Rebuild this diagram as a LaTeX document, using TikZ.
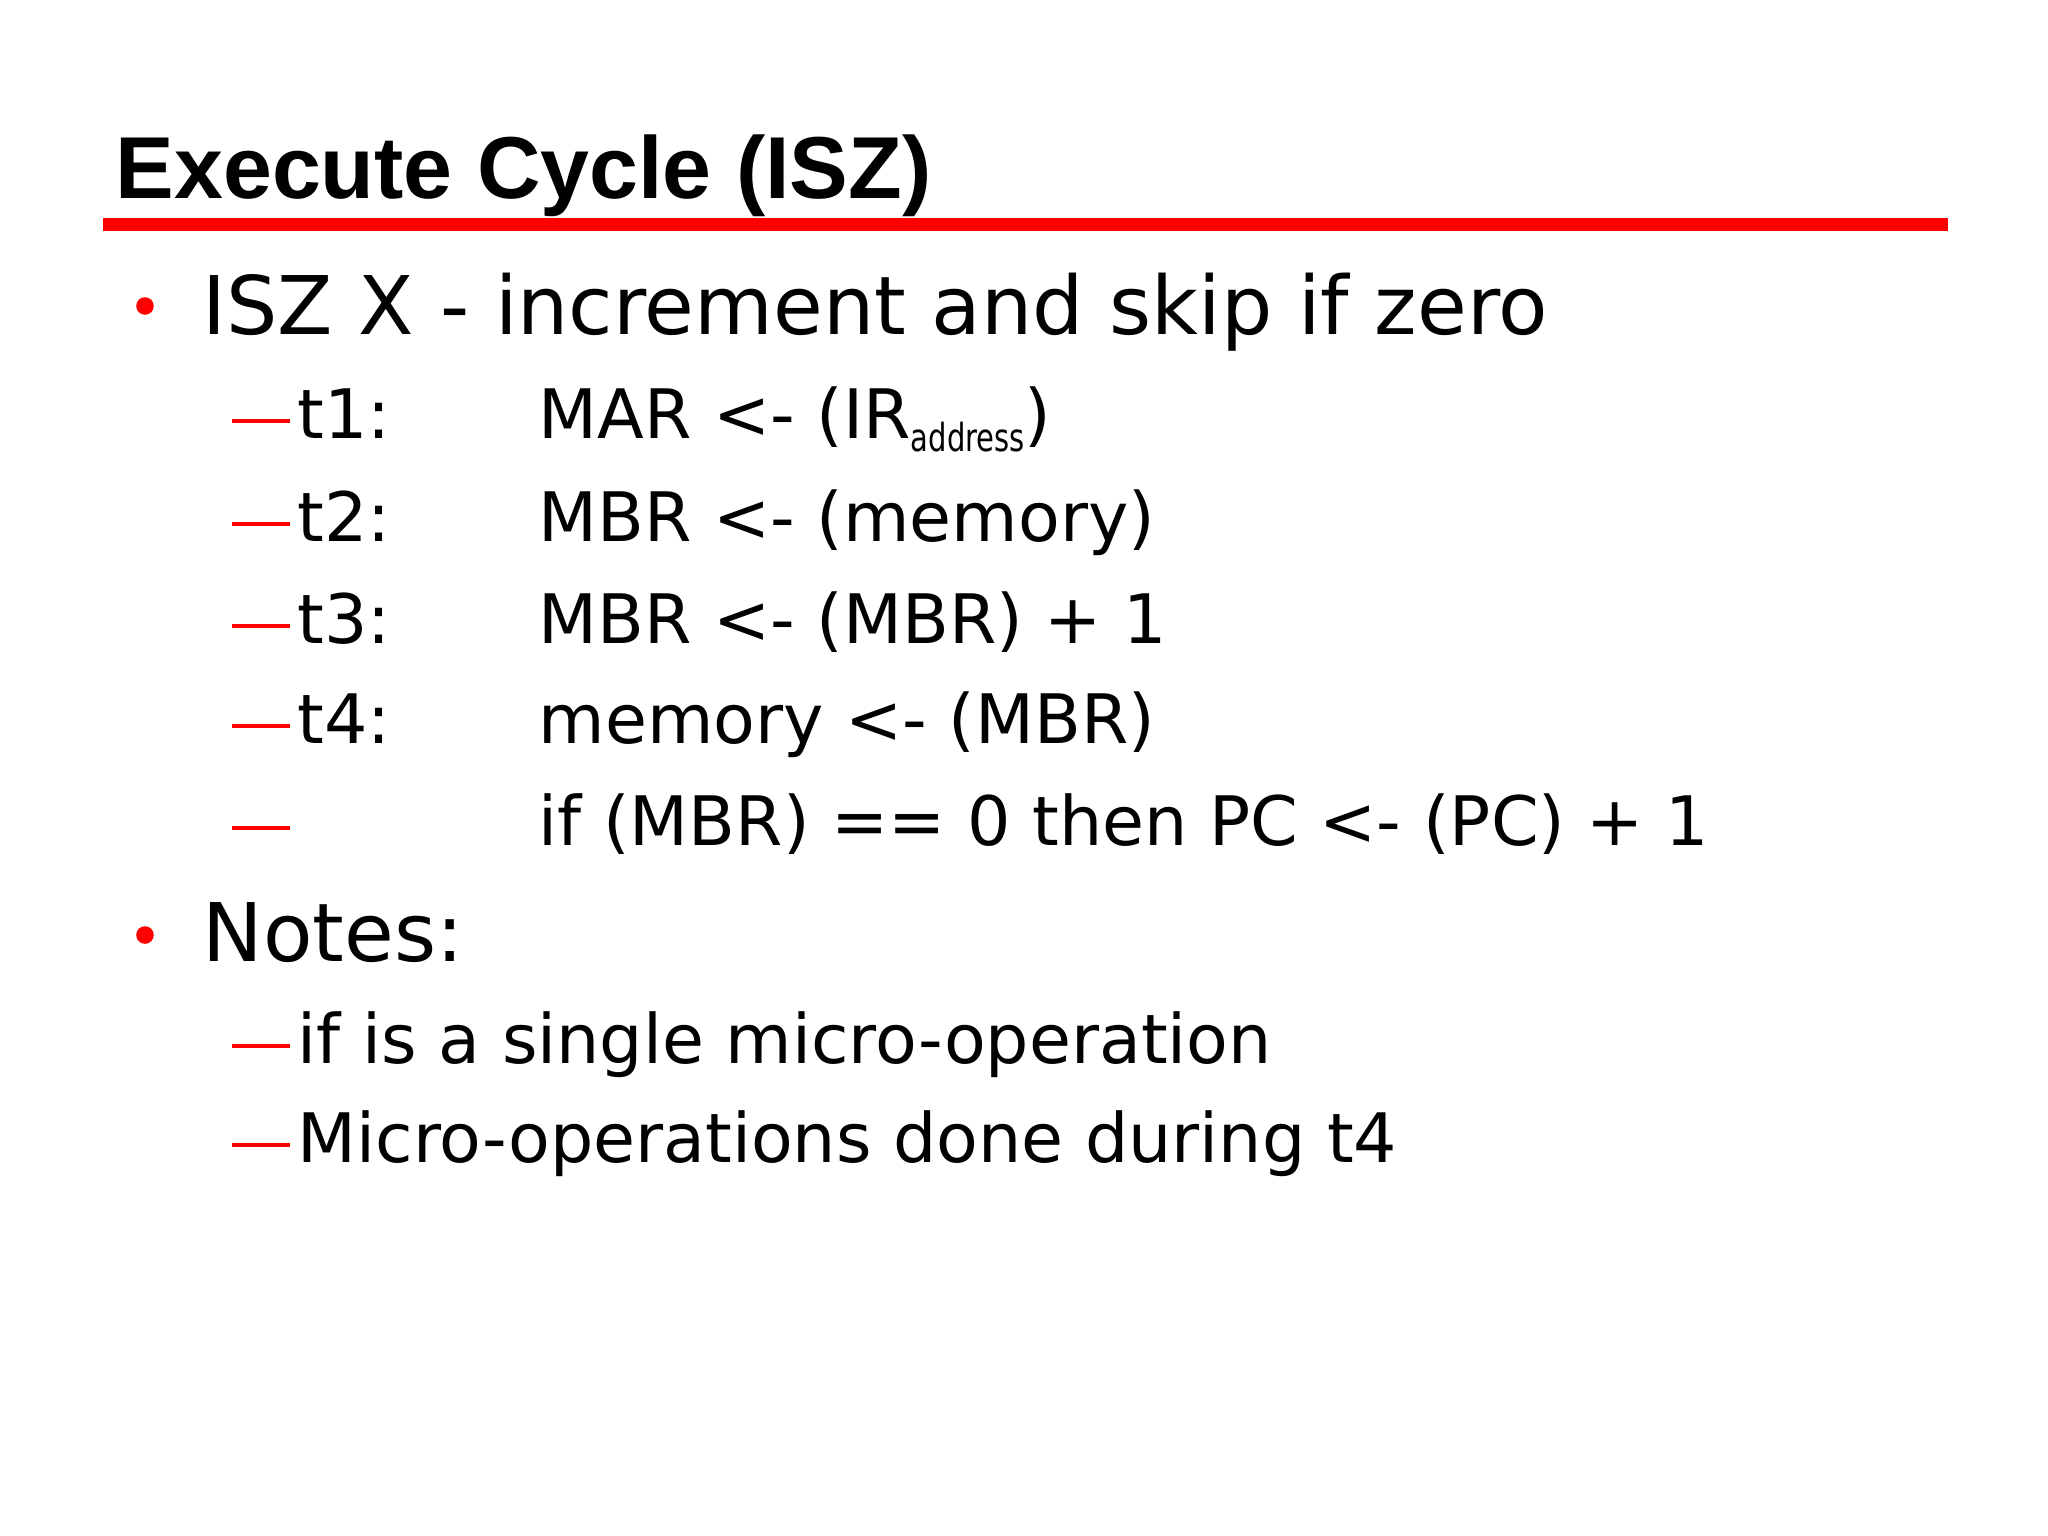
\documentclass[tikz,border=0pt]{standalone}
\usepackage{fontspec}
\setmainfont{DejaVu Sans}
\newfontfamily\titlefont{Liberation Sans}
\definecolor{redline}{RGB}{255,0,0}
\begin{document}
\begin{tikzpicture}[x=0.01cm,y=-0.01cm,
  lvl/.style={anchor=base west,inner sep=0pt,font=\fontsize{23}{27}\selectfont},
  sub/.style={anchor=base west,inner sep=0pt,font=\fontsize{19.4}{22}\selectfont},
  dot/.style={circle,fill=redline,inner sep=0pt,minimum size=5pt},
  dashmark/.style={draw=redline,line width=1.4pt}]
\useasboundingbox (0,0) rectangle (2048,1536);
\fill[white] (0,0) rectangle (2048,1536);
\node[anchor=base west,inner sep=0pt,font=\fontsize{25}{30}\selectfont\titlefont\bfseries] (title) at (115,198) {Execute Cycle (ISZ)};
\draw[draw=redline,line width=3.7pt] (103,224) coordinate (l1) -- (1948,224) coordinate (l2);
\node[dot] (b1) at (145,306) {};
\node[lvl] (h1) at (202,334) {ISZ X - increment and skip if zero};
\foreach \y/\t/\r [count=\i] in {438/t1:/{MAR <- (IR\raisebox{-0.35ex}{\fontsize{11}{12}\selectfont\scalebox{0.75}[1]{address}})},
  541/t2:/{MBR <- (memory)},643/t3:/{MBR <- (MBR) + 1},743/t4:/{memory <- (MBR)},845//{if (MBR) == 0 then PC <- (PC) + 1}}{
  \coordinate (da\i) at (232,\y-17); \coordinate (db\i) at (290,\y-17);
  \draw[dashmark] (da\i) -- (db\i);
  \node[sub] (k\i) at (297,\y) {\t};
  \node[sub] (v\i) at (538,\y) {\r};
}
\node[dot] (b2) at (145,935) {};
\node[lvl] (h2) at (202,961) {Notes:};
\foreach \y/\t [count=\i] in {1063/{if is a single micro-operation},1162/{Micro-operations done during t4}}{
  \coordinate (na\i) at (232,\y-17); \coordinate (nb\i) at (290,\y-17);
  \draw[dashmark] (na\i) -- (nb\i);
  \node[sub] (n\i) at (297,\y) {\t};
}
\end{tikzpicture}
\end{document}
